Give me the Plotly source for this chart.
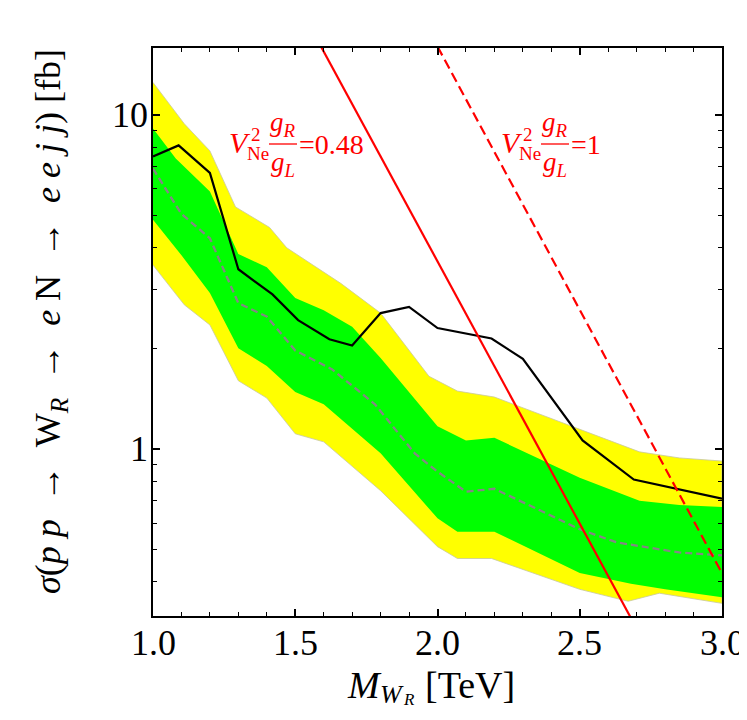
import math
import plotly.graph_objects as go

# ---------------- data ----------------
obs_M = [1.0, 1.09, 1.2, 1.3, 1.42, 1.51, 1.62, 1.7, 1.8, 1.9, 2.0, 2.19, 2.3, 2.51, 2.69, 3.0]
obs_sigma = [7.5, 8.1, 6.7, 3.45, 2.9, 2.43, 2.13, 2.04, 2.55, 2.66, 2.30, 2.14, 1.86, 1.06, 0.81, 0.71]

exp_M = [1.0, 1.1, 1.2, 1.3, 1.4, 1.5, 1.63, 1.78, 1.92, 2.0, 2.1, 2.2, 2.5, 2.63, 2.85, 3.0]
exp_sigma = [6.9, 5.05, 4.27, 2.73, 2.49, 1.97, 1.73, 1.36, 0.97, 0.855, 0.745, 0.76, 0.575, 0.525, 0.49, 0.48]

y2up_M = [1.0, 1.11, 1.2, 1.29, 1.41, 1.47, 1.66, 1.8, 1.97, 2.07, 2.2, 2.51, 2.71, 2.85, 3.0]
y2up_sigma = [12.5, 9.4, 7.8, 5.3, 4.6, 4.0, 3.13, 2.55, 1.65, 1.49, 1.43, 1.14, 0.98, 0.94, 0.92]

y2dn_M = [1.0, 1.11, 1.2, 1.3, 1.4, 1.5, 1.6, 1.8, 2.0, 2.07, 2.19, 2.5, 2.67, 2.78, 3.0]
y2dn_sigma = [3.55, 2.7, 2.35, 1.6, 1.42, 1.11, 1.05, 0.75, 0.51, 0.47, 0.47, 0.38, 0.35, 0.37, 0.345]

g1up_M = [1.0, 1.08, 1.2, 1.3, 1.4, 1.5, 1.6, 1.7, 1.8, 2.0, 2.1, 2.2, 2.5, 2.71, 2.85, 3.0]
g1up_sigma = [9.1, 7.4, 5.9, 3.83, 3.5, 2.83, 2.6, 2.32, 1.87, 1.17, 1.06, 1.08, 0.82, 0.70, 0.68, 0.67]

g1dn_M = [1.0, 1.1, 1.2, 1.3, 1.4, 1.5, 1.6, 1.8, 2.0, 2.07, 2.2, 2.5, 2.68, 2.8, 3.0]
g1dn_sigma = [4.85, 3.8, 2.93, 2.0, 1.77, 1.48, 1.36, 0.97, 0.62, 0.565, 0.565, 0.425, 0.395, 0.38, 0.36]

th048_M = [1.5, 2.7]
th048_sigma = [22.2, 0.29]
th1_M = [1.95, 3.05]
th1_sigma = [19.2, 0.354]

x_ticks = [1.0, 1.5, 2.0, 2.5, 3.0]
x_ticklabels = ["1.0", "1.5", "2.0", "2.5", "3.0"]
y_ticks = [1, 10]
y_ticklabels = ["1", "10"]
y_minor = [0.4, 0.5, 0.6, 0.7, 0.8, 0.9, 2, 3, 4, 5, 6, 7, 8, 9]

# ---------------- layout geometry ----------------
# The page body keeps the browser's default 8px margin, so the figure is made
# 8px smaller and every position below is given in window pixels.
BODY = 8
WIN_W, WIN_H = 747, 720
W, H = WIN_W - BODY, WIN_H - BODY
FRAME_L, FRAME_R, FRAME_T, FRAME_B = 153, 722, 48, 616   # frame in window pixels
ML, MR = FRAME_L - BODY, WIN_W - FRAME_R
MT, MB = FRAME_T - BODY, WIN_H - FRAME_B
PW, PH = FRAME_R - FRAME_L, FRAME_B - FRAME_T
FONT = "Liberation Serif"


def px(x):
    return (x - FRAME_L) / PW


def py(y):
    return (FRAME_B - y) / PH


fig = go.Figure()

# 2-sigma band
fig.add_trace(go.Scatter(
    x=y2up_M + y2dn_M[::-1], y=y2up_sigma + y2dn_sigma[::-1],
    fill="toself", fillcolor="#ffff00", mode="lines",
    line=dict(color="#c8c8a0", width=0.8), showlegend=False, hoverinfo="skip"))
# 1-sigma band
fig.add_trace(go.Scatter(
    x=g1up_M + g1dn_M[::-1], y=g1up_sigma + g1dn_sigma[::-1],
    fill="toself", fillcolor="#00ff00", mode="lines",
    line=dict(color="#00ff00", width=0), showlegend=False, hoverinfo="skip"))
# expected
fig.add_trace(go.Scatter(
    x=exp_M, y=exp_sigma, mode="lines",
    line=dict(color="#858585", width=2.3, dash="7px,4px"), showlegend=False))
# observed
fig.add_trace(go.Scatter(
    x=obs_M, y=obs_sigma, mode="lines",
    line=dict(color="black", width=2.2), showlegend=False))
# theory lines
fig.add_trace(go.Scatter(
    x=th048_M, y=th048_sigma, mode="lines",
    line=dict(color="#ff0000", width=2.2), showlegend=False))
fig.add_trace(go.Scatter(
    x=th1_M, y=th1_sigma, mode="lines",
    line=dict(color="#ff0000", width=2.2, dash="10px,5px"), showlegend=False))

annotations = []
shapes = []


def txt(x, y, text, size, xanchor="left", yanchor="top", color="black", angle=0, pad=1):
    annotations.append(dict(x=px(x), y=py(y), xref="paper", yref="paper", text=text,
                            showarrow=False, xanchor=xanchor, yanchor=yanchor,
                            textangle=angle, borderpad=pad, borderwidth=pad,
                            font=dict(family=FONT, size=size, color=color)))


def label(x0, value_text):
    red = "#ff0000"
    txt(x0 + 10, 142, "<i>V</i>", 30, "center", "middle", red)
    txt(x0 + 19, 135, "2", 19, "left", "middle", red)
    txt(x0 + 15, 153, "Ne", 19, "left", "middle", red)
    txt(x0 + 53, 143, "<i>g</i><sub><i>R</i></sub>", 27, "center", "bottom", red)
    txt(x0 + 53, 145, "<i>g</i><sub><i>L</i></sub>", 27, "center", "top", red)
    shapes.append(dict(type="line", xref="paper", yref="paper",
                       x0=px(x0 + 39), x1=px(x0 + 67), y0=py(144), y1=py(144),
                       line=dict(color=red, width=1.3)))
    txt(x0 + 67, 144, value_text, 28, "left", "middle", red)


label(230, "=0.48")
label(502, "=1")

# tick labels (placed explicitly at the tick values)
for v, t in zip(x_ticks, x_ticklabels):
    annotations.append(dict(x=v, xref="x", y=py(623), yref="paper", text=t,
                            showarrow=False, xanchor="center", yanchor="top",
                            borderpad=0, borderwidth=0,
                            font=dict(family=FONT, size=36, color="black")))
for v, t in zip(y_ticks, y_ticklabels):
    annotations.append(dict(x=px(150), xref="paper", y=math.log10(v), yref="y", text=t,
                            showarrow=False, xanchor="right", yanchor="middle",
                            font=dict(family=FONT, size=36, color="black")))

# y-axis title
sp = "\u2002"
ytitle = ("<i>σ</i>(<i>p p</i>" + sp + "→" + sp + "W<sub><i>R</i></sub>" + sp + "→" + sp +
          "<i>e</i> N" + sp + "→" + sp + "<i>e e j j</i>) [fb]")
txt(50, 322, ytitle, 36, "center", "middle", "black", -90)

# x-axis title, built from pieces so the nested subscript stays compact
txt(347, 664, "<i>M</i>", 38, pad=0)
txt(380, 680, "<i>W</i>", 26, pad=0)
txt(403, 690, "<i>R</i>", 17, pad=0)
txt(425, 664, "[TeV]", 38, pad=0)

fig.update_layout(
    width=W, height=H,
    margin=dict(l=ML, r=MR, t=MT, b=MB),
    paper_bgcolor="white", plot_bgcolor="white",
    annotations=annotations, shapes=shapes,
    showlegend=False,
)

fig.update_xaxes(
    range=[1.0, 3.0], tickmode="array", tickvals=x_ticks, showticklabels=False,
    ticks="inside", ticklen=7, tickwidth=1.5, tickcolor="black",
    showline=True, linewidth=2, linecolor="black", mirror="ticks",
    showgrid=False, zeroline=False, automargin=False,
    minor=dict(dtick=0.1, ticks="inside", ticklen=4, tickwidth=1.2, tickcolor="black", showgrid=False),
)
fig.update_yaxes(
    type="log", range=[-0.5, 1.2], tickmode="array", tickvals=y_ticks, showticklabels=False,
    ticks="inside", ticklen=7, tickwidth=1.5, tickcolor="black",
    showline=True, linewidth=2, linecolor="black", mirror="ticks",
    showgrid=False, zeroline=False, automargin=False,
    minor=dict(tickmode="array", tickvals=y_minor, ticks="inside", ticklen=4,
               tickwidth=1.2, tickcolor="black", showgrid=False),
)

fig.write_html("out.html")
